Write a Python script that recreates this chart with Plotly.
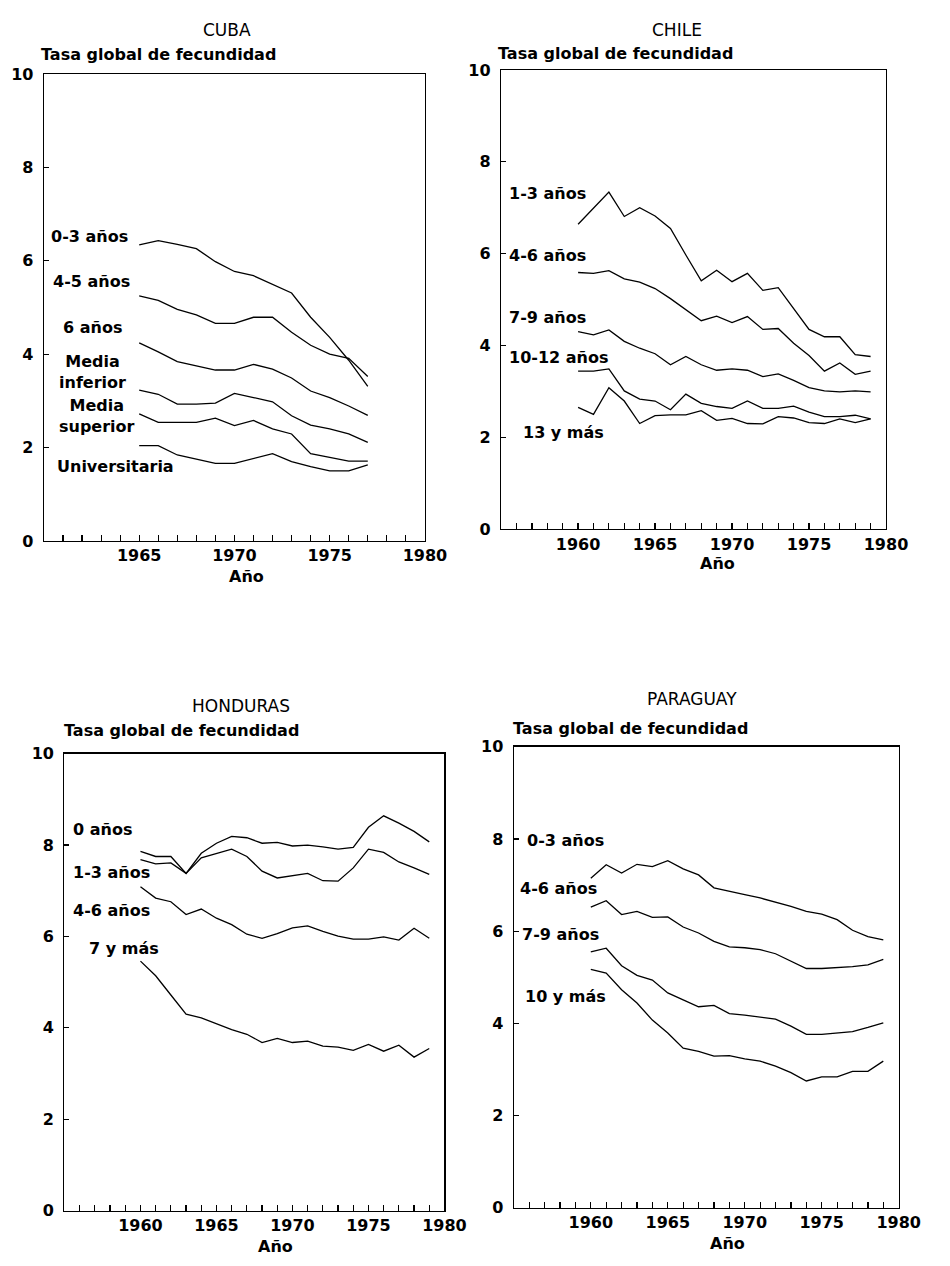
import plotly.graph_objects as go

W, H = 950, 1266

# ---------------- DATA ----------------
cuba_years = list(range(1965, 1978))
cuba_0_3 = [6.34, 6.43, 6.35, 6.26, 5.98, 5.77, 5.68, 5.49, 5.31, 4.79, 4.36, 3.87, 3.31]
cuba_4_5 = [5.25, 5.15, 4.96, 4.84, 4.66, 4.66, 4.79, 4.79, 4.47, 4.19, 4.00, 3.91, 3.52]
cuba_6 = [4.24, 4.05, 3.84, 3.75, 3.66, 3.66, 3.78, 3.68, 3.49, 3.21, 3.07, 2.89, 2.69]
cuba_media_inf = [3.23, 3.14, 2.93, 2.93, 2.95, 3.16, 3.07, 2.98, 2.68, 2.48, 2.40, 2.29, 2.11]
cuba_media_sup = [2.72, 2.54, 2.54, 2.54, 2.63, 2.47, 2.58, 2.40, 2.29, 1.87, 1.79, 1.71, 1.71]
cuba_univ = [2.04, 2.04, 1.84, 1.75, 1.66, 1.66, 1.77, 1.87, 1.70, 1.59, 1.50, 1.50, 1.63]

chile_years = list(range(1960, 1980))
chile_1_3 = [6.64, 7.00, 7.34, 6.81, 7.00, 6.82, 6.55, 5.97, 5.41, 5.64, 5.39, 5.57, 5.20,
             5.26, 4.81, 4.35, 4.19, 4.19, 3.80, 3.76]
chile_4_6 = [5.59, 5.57, 5.63, 5.45, 5.38, 5.24, 5.02, 4.78, 4.54, 4.64, 4.50, 4.63, 4.35,
             4.37, 4.05, 3.78, 3.44, 3.62, 3.37, 3.44]
chile_7_9 = [4.30, 4.23, 4.34, 4.09, 3.94, 3.82, 3.58, 3.76, 3.58, 3.46, 3.49, 3.46, 3.32,
             3.38, 3.24, 3.08, 3.01, 2.99, 3.01, 2.99]
chile_10_12 = [3.44, 3.44, 3.49, 3.01, 2.83, 2.79, 2.60, 2.94, 2.74, 2.67, 2.63, 2.79, 2.63,
               2.63, 2.68, 2.55, 2.45, 2.45, 2.48, 2.40]
chile_13_mas = [2.65, 2.50, 3.08, 2.79, 2.30, 2.47, 2.49, 2.49, 2.58, 2.37, 2.41, 2.30, 2.29,
                2.45, 2.42, 2.32, 2.30, 2.40, 2.32, 2.40]

honduras_years = list(range(1960, 1980))
honduras_0 = [7.86, 7.75, 7.75, 7.38, 7.82, 8.04, 8.19, 8.16, 8.04, 8.06, 7.98, 8.00, 7.96,
              7.91, 7.95, 8.39, 8.64, 8.48, 8.30, 8.07]
honduras_1_3 = [7.68, 7.59, 7.61, 7.38, 7.72, 7.82, 7.91, 7.75, 7.43, 7.28, 7.33, 7.38, 7.22,
                7.21, 7.50, 7.91, 7.84, 7.63, 7.50, 7.36]
honduras_4_6 = [7.09, 6.84, 6.76, 6.48, 6.60, 6.40, 6.26, 6.05, 5.96, 6.06, 6.19, 6.23, 6.11,
                6.01, 5.94, 5.94, 5.99, 5.92, 6.18, 5.96]
honduras_7_mas = [5.46, 5.14, 4.72, 4.30, 4.22, 4.09, 3.96, 3.86, 3.68, 3.77, 3.68, 3.71, 3.60,
                  3.58, 3.51, 3.64, 3.49, 3.62, 3.36, 3.55]

paraguay_years = list(range(1960, 1980))
paraguay_0_3 = [7.15, 7.44, 7.26, 7.45, 7.40, 7.53, 7.35, 7.22, 6.94, 6.86, 6.79, 6.72, 6.63,
                6.54, 6.43, 6.37, 6.25, 6.02, 5.88, 5.81]
paraguay_4_6 = [6.52, 6.66, 6.36, 6.43, 6.30, 6.31, 6.09, 5.96, 5.78, 5.66, 5.64, 5.60, 5.51,
                5.35, 5.19, 5.19, 5.21, 5.23, 5.27, 5.39]
paraguay_7_9 = [5.55, 5.63, 5.25, 5.04, 4.94, 4.66, 4.51, 4.36, 4.39, 4.21, 4.18, 4.14, 4.09,
                3.94, 3.76, 3.76, 3.79, 3.82, 3.91, 4.01]
paraguay_10_mas = [5.17, 5.09, 4.73, 4.44, 4.07, 3.79, 3.46, 3.39, 3.29, 3.30, 3.23, 3.18, 3.07,
                   2.93, 2.75, 2.84, 2.84, 2.96, 2.96, 3.18]

titles = ["CUBA", "CHILE", "HONDURAS", "PARAGUAY"]
y_title = "Tasa global de fecundidad"
x_title = "Año"
y_ticks = [0, 2, 4, 6, 8, 10]

cuba_labels = ["0-3 años", "4-5 años", "6 años", "Media<br>inferior", "Media<br>superior", "Universitaria"]
chile_labels = ["1-3 años", "4-6 años", "7-9 años", "10-12 años", "13 y más"]
honduras_labels = ["0 años", "1-3 años", "4-6 años", "7 y más"]
paraguay_labels = ["0-3 años", "4-6 años", "7-9 años", "10 y más"]

# ---------------- LAYOUT (pixel geometry of the page) ----------------
FONT = "DejaVu Sans, Verdana, sans-serif"

panels = [
    dict(title=titles[0], frame=(45, 66, 435, 540), xr=(1960, 1980), xlab=[1965, 1970, 1975, 1980],
         tpos=(232, 21), ypos=(40, 46), xpos=(252, 576),
         years=cuba_years, series=[cuba_0_3, cuba_4_5, cuba_6, cuba_media_inf, cuba_media_sup, cuba_univ],
         labels=cuba_labels,
         lpos=[(1960.25, 6.53, "left"), (1960.35, 5.56, "left"), (1960.9, 4.57, "left"),
               (1962.55, 3.62, "center"), (1962.8, 2.67, "center"), (1960.6, 1.60, "left")]),
    dict(title=titles[1], frame=(513, 62, 907, 528), xr=(1955, 1980), xlab=[1960, 1965, 1970, 1975, 1980],
         tpos=(693, 21), ypos=(508, 45), xpos=(735, 563),
         years=chile_years, series=[chile_1_3, chile_4_6, chile_7_9, chile_10_12, chile_13_mas],
         labels=chile_labels,
         lpos=[(1955.4, 7.31, "left"), (1955.4, 5.96, "left"), (1955.4, 4.62, "left"),
               (1955.4, 3.74, "left"), (1956.3, 2.11, "left")]),
    dict(title=titles[2], frame=(66, 756, 455, 1220), xr=(1955, 1980), xlab=[1960, 1965, 1970, 1975, 1980],
         tpos=(247, 708), ypos=(63, 733), xpos=(282, 1256),
         years=honduras_years, series=[honduras_0, honduras_1_3, honduras_4_6, honduras_7_mas],
         labels=honduras_labels,
         lpos=[(1955.4, 8.33, "left"), (1955.4, 7.40, "left"), (1955.4, 6.56, "left"),
               (1956.5, 5.74, "left")]),
    dict(title=titles[3], frame=(526, 749, 920, 1217), xr=(1955, 1980), xlab=[1960, 1965, 1970, 1975, 1980],
         tpos=(708, 701), ypos=(523, 730), xpos=(745, 1253),
         years=paraguay_years, series=[paraguay_0_3, paraguay_4_6, paraguay_7_9, paraguay_10_mas],
         labels=paraguay_labels,
         lpos=[(1955.7, 7.97, "left"), (1955.25, 6.92, "left"), (1955.4, 5.93, "left"),
               (1955.6, 4.58, "left")]),
]


def fx(x):
    return x / W


def fy(y):
    return 1 - y / H


fig = go.Figure()
annotations = []
layout_axes = {}

for i, p in enumerate(panels, start=1):
    sx = "" if i == 1 else str(i)
    xa, ya = "x" + sx, "y" + sx
    x0, y0, x1, y1 = p["frame"]
    for s in p["series"]:
        fig.add_trace(go.Scatter(x=p["years"], y=s, mode="lines", xaxis=xa, yaxis=ya,
                                 line=dict(color="black", width=1.3), showlegend=False,
                                 hoverinfo="skip"))
    tv = list(range(p["xr"][0] + 1, p["xr"][1] + 1))
    tt = [str(v) if v in p["xlab"] else "" for v in tv]
    layout_axes["xaxis" + sx] = dict(
        domain=[fx(x0), fx(x1)], range=list(p["xr"]), anchor=ya,
        showline=True, linecolor="black", linewidth=1.3, mirror=True,
        ticks="inside", ticklen=6, tickwidth=1.2, tickcolor="black",
        tickvals=tv, ticktext=tt, showgrid=False, zeroline=False,
        tickfont=dict(family=FONT, size=16, color="black", weight="bold"),
        ticklabelstandoff=0,
    )
    layout_axes["yaxis" + sx] = dict(
        domain=[fy(y1), fy(y0)], range=[0, 10], anchor=xa,
        showline=True, linecolor="black", linewidth=1.3, mirror=True,
        ticks="inside", ticklen=5, tickwidth=1.2, tickcolor="black",
        tickvals=y_ticks, showgrid=False, zeroline=False,
        tickfont=dict(family=FONT, size=16, color="black", weight="bold"),
        ticklabelstandoff=6,
    )
    annotations.append(dict(text=p["title"], x=fx(p["tpos"][0]), y=fy(p["tpos"][1]),
                            xref="paper", yref="paper", xanchor="center", yanchor="middle",
                            showarrow=False, font=dict(family=FONT, size=17, color="black")))
    annotations.append(dict(text="<b>" + y_title + "</b>", x=fx(p["ypos"][0]), y=fy(p["ypos"][1]),
                            xref="paper", yref="paper", xanchor="left", yanchor="middle",
                            showarrow=False, font=dict(family=FONT, size=16, color="black")))
    annotations.append(dict(text="<b>" + x_title + "</b>", x=fx(p["xpos"][0]), y=fy(p["xpos"][1]),
                            xref="paper", yref="paper", xanchor="center", yanchor="middle",
                            showarrow=False, font=dict(family=FONT, size=16, color="black")))
    for lab, (lx, ly, anc) in zip(p["labels"], p["lpos"]):
        annotations.append(dict(text="<b>" + lab + "</b>", x=lx, y=ly, xref=xa, yref=ya,
                                xanchor=anc, yanchor="middle", align="center", showarrow=False,
                                font=dict(family=FONT, size=16, color="black")))

fig.update_layout(
    width=W, height=H, margin=dict(l=0, r=0, t=0, b=0),
    paper_bgcolor="white", plot_bgcolor="white",
    annotations=annotations, **layout_axes,
)

fig.write_html(
    "out.html",
    config={"displayModeBar": False, "staticPlot": True},
    post_script="document.body.style.margin='0px';"
                "document.documentElement.style.overflow='hidden';"
                "document.body.style.overflow='hidden';",
)
